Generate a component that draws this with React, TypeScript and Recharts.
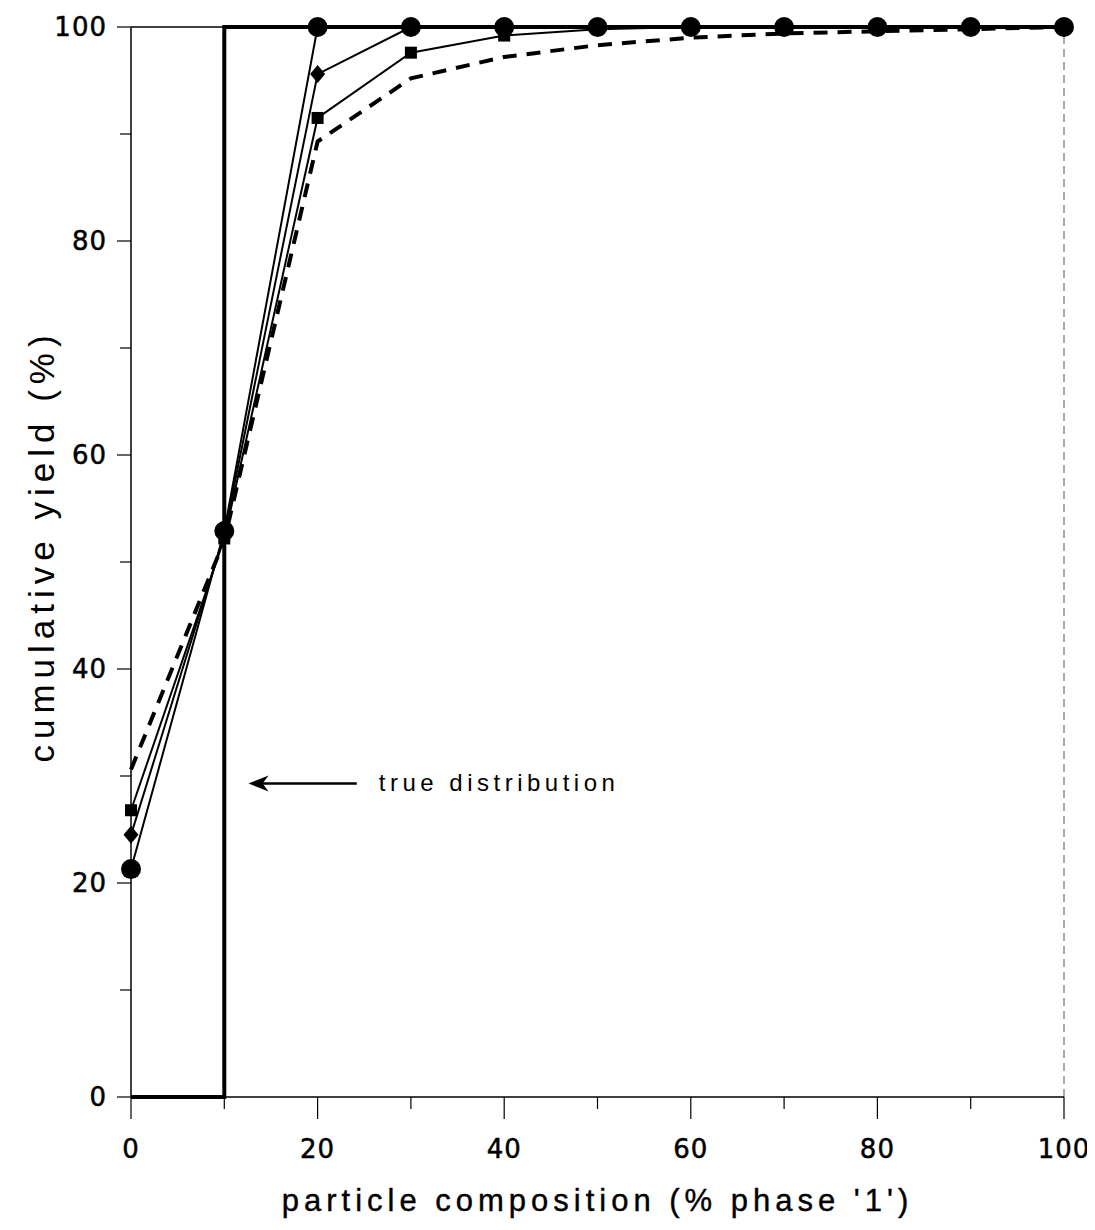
import { LineChart, Line, XAxis, YAxis, ReferenceLine } from 'recharts'

// composition bins (% phase '1')
const compositions = [0, 10, 20, 30, 40, 50, 60, 70, 80, 90, 100]

// cumulative yield (%) per series
const circleYield = [21.3, 52.9, 100, 100, 100, 100, 100, 100, 100, 100, 100]
const diamondYield = [24.5, 52.6, 95.6, 100, 100, 100, 100, 100, 100, 100, 100]
const squareYield = [26.8, 52.2, 91.5, 97.6, 99.2, 99.8, 100, 100, 100, 100, 100]
const dashedYield = [30.6, 52.0, 89.3, 95.2, 97.2, 98.3, 99.0, 99.4, 99.6, 99.8, 100]

// ideal step distribution
const trueX = [0, 10, 10, 100]
const trueY = [0, 0, 100, 100]

const xTicks = [0, 10, 20, 30, 40, 50, 60, 70, 80, 90, 100]
const yTicks = [0, 10, 20, 30, 40, 50, 60, 70, 80, 90, 100]

// arrow annotation: tail -> head, and label
const arrowFrom = { x: 24.2, y: 29.3 }
const arrowTo = { x: 12.6, y: 29.3 }
const arrowText = 'true distribution'

const toRows = (ys: number[]) => compositions.map((c, i) => ({ x: c, y: ys[i] }))
const trueRows = trueX.map((x, i) => ({ x, y: trueY[i] }))

const FONT = '"Liberation Sans", Arial, sans-serif'
const TICK_FONT = '"DejaVu Sans", sans-serif'

function XTick(props: any) {
  const { x, y, payload } = props
  const major = payload.value % 20 === 0
  return (
    <g>
      <line x1={x} x2={x} y1={y} y2={y + (major ? 22 : 12)} stroke="#000" strokeWidth={1.2} />
      {major && (
        <text
          x={x}
          y={y + 61}
          textAnchor="middle"
          fontSize={26}
          letterSpacing={1}
          fontFamily={TICK_FONT}
          fill="#000"
          stroke="#000"
          strokeWidth={0.5}
        >
          {payload.value}
        </text>
      )}
    </g>
  )
}

function YTick(props: any) {
  const { x, y, payload } = props
  const major = payload.value % 20 === 0
  return (
    <g>
      <line x1={x - (major ? 14 : 11)} x2={x} y1={y} y2={y} stroke="#000" strokeWidth={1.2} />
      {major && (
        <text
          x={x - 24}
          y={y}
          dy="0.36em"
          textAnchor="end"
          fontSize={26}
          letterSpacing={1}
          fontFamily={TICK_FONT}
          fill="#000"
          stroke="#000"
          strokeWidth={0.5}
        >
          {payload.value}
        </text>
      )}
    </g>
  )
}

const circleDot = (p: any) => <circle key={p.index} cx={p.cx} cy={p.cy} r={10} fill="#000" />
const diamondDot = (p: any) => (
  <polygon
    key={p.index}
    points={`${p.cx},${p.cy - 9} ${p.cx + 7.5},${p.cy} ${p.cx},${p.cy + 9} ${p.cx - 7.5},${p.cy}`}
    fill="#000"
  />
)
const squareDot = (p: any) => <rect key={p.index} x={p.cx - 6} y={p.cy - 6} width={12} height={12} fill="#000" />

function ArrowShape(props: any) {
  const { x1, y1, x2, y2 } = props
  return (
    <g>
      <line x1={x1} y1={y1} x2={x2 + 12} y2={y2} stroke="#000" strokeWidth={2.5} />
      <polygon points={`${x2},${y2} ${x2 + 20},${y2 - 8} ${x2 + 14},${y2} ${x2 + 20},${y2 + 8}`} fill="#000" />
      <text x={x1 + 22} y={y1} dy="0.33em" fontSize={24} letterSpacing={4.5} fontFamily={FONT} fill="#000">
        {arrowText}
      </text>
    </g>
  )
}

export default function App() {
  return (
    <div style={{ width: 1087, height: 1214, background: '#fff' }}>
      <LineChart width={1087} height={1214} margin={{ top: 19, right: 31, bottom: 0, left: 0 }}>
        <XAxis
          type="number"
          dataKey="x"
          domain={[0, 100]}
          ticks={xTicks}
          interval={0}
          tickSize={0}
          tickMargin={0}
          tickLine={false}
          tick={<XTick />}
          axisLine={{ stroke: '#000', strokeWidth: 1.5 }}
          height={125}
          allowDuplicatedCategory={false}
          label={(p: any) => {
            const vb = p.viewBox
            return (
              <text
                x={vb.x + vb.width / 2}
                y={1192}
                dy="0.35em"
                textAnchor="middle"
                fontSize={31}
                letterSpacing={5}
                fontFamily={FONT}
                fill="#000"
                stroke="#000"
                strokeWidth={0.4}
              >
                particle composition (% phase '1')
              </text>
            )
          }}
        />
        <YAxis
          type="number"
          dataKey="y"
          domain={[0, 100]}
          ticks={yTicks}
          interval={0}
          tickSize={0}
          tickMargin={0}
          tickLine={false}
          tick={<YTick />}
          axisLine={{ stroke: '#000', strokeWidth: 1.5 }}
          width={123}
          label={() => (
            <text
              x={34}
              y={538}
              dy="0.35em"
              textAnchor="middle"
              fontSize={35}
              letterSpacing={6}
              fontFamily={FONT}
              fill="#000"
              transform="rotate(-90 34 538)"
            >
              cumulative yield (%)
            </text>
          )}
        />
        <ReferenceLine y={100} stroke="#000" strokeWidth={1.5} />
        <ReferenceLine x={100} stroke="#555" strokeWidth={1} strokeDasharray="8 5" />
        <Line
          data={trueRows}
          dataKey="y"
          type="linear"
          stroke="#000"
          strokeWidth={4}
          dot={false}
          isAnimationActive={false}
        />
        <Line
          data={toRows(dashedYield)}
          dataKey="y"
          type="linear"
          stroke="#000"
          strokeWidth={4}
          strokeDasharray="14 10"
          dot={false}
          isAnimationActive={false}
        />
        <Line
          data={toRows(squareYield)}
          dataKey="y"
          type="linear"
          stroke="#000"
          strokeWidth={2}
          dot={squareDot}
          isAnimationActive={false}
        />
        <Line
          data={toRows(diamondYield)}
          dataKey="y"
          type="linear"
          stroke="#000"
          strokeWidth={2}
          dot={diamondDot}
          isAnimationActive={false}
        />
        <Line
          data={toRows(circleYield)}
          dataKey="y"
          type="linear"
          stroke="#000"
          strokeWidth={2}
          dot={circleDot}
          isAnimationActive={false}
        />
        <ReferenceLine
          segment={[arrowFrom, arrowTo]}
          shape={<ArrowShape />}
          ifOverflow="visible"
        />
      </LineChart>
    </div>
  )
}
